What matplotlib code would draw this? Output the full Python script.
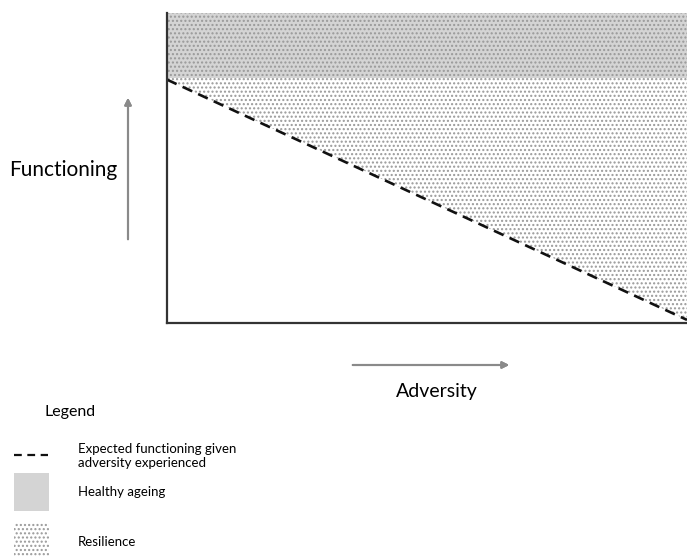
import numpy as np
import matplotlib.pyplot as plt
from matplotlib.patches import Rectangle
from matplotlib.lines import Line2D

plt.rcParams['font.family'] = ['Lato', 'DejaVu Sans']
plt.rcParams['hatch.linewidth'] = 1.0

# conceptual data (adversity 0..10, functioning 0..10)
adversity = [0.0, 10.0]
expected_functioning = [7.85, 0.1]
healthy_low = 7.9
top = 10.0

legend_labels = ["Expected functioning given\nadversity experienced",
                 "Healthy ageing", "Resilience"]

fig = plt.figure(figsize=(6.87, 5.56), dpi=100)
ax = fig.add_axes([167 / 687, 1 - 323 / 556, 520 / 687, 310 / 556])

# healthy ageing band
ax.fill_between(adversity, healthy_low, top, color="#d4d4d4", linewidth=0)
# resilience (dotted) region above expected line
ax.fill_between(adversity, expected_functioning, top, facecolor="none",
                edgecolor="#999999", hatch="....", linewidth=0)
ax.plot(adversity, expected_functioning, color="#111111", lw=1.9,
        dashes=(4, 2.5))

ax.set_xlim(0, 10)
ax.set_ylim(0, 10)
ax.set_xticks([])
ax.set_yticks([])
for s in ["top", "right"]:
    ax.spines[s].set_visible(False)
for s in ["left", "bottom"]:
    ax.spines[s].set_color("#333333")
    ax.spines[s].set_linewidth(1.6)


def fx(px):
    return px / 687


def fy(py):
    return 1 - py / 556


arrow = dict(arrowstyle="-|>", color="#8a8a8a", lw=1.5, mutation_scale=10)
fig.add_artist(plt.annotate("", xy=(fx(128), fy(95)), xytext=(fx(128), fy(242)),
                            xycoords="figure fraction", arrowprops=arrow))
fig.add_artist(plt.annotate("", xy=(fx(512), fy(365)), xytext=(fx(350), fy(365)),
                            xycoords="figure fraction", arrowprops=arrow))

fig.text(fx(63), fy(170), "Functioning", fontsize=15, ha="center", va="center")
fig.text(fx(437), fy(391), "Adversity", fontsize=14, ha="center", va="center")

# legend
fig.text(fx(45), fy(412), "Legend", fontsize=11.5, ha="left", va="center")
fig.add_artist(Line2D([fx(14), fx(48)], [fy(455), fy(455)], color="#111111",
                      lw=1.6, dashes=(3.5, 2.5), transform=fig.transFigure))
fig.add_artist(Rectangle((fx(14), fy(511)), fx(35), 38 / 556, color="#d4d4d4",
                         lw=0, transform=fig.transFigure))
fig.add_artist(Rectangle((fx(14), fy(556)), fx(35), 34 / 556, facecolor="none",
                         edgecolor="#999999", hatch="....", lw=0,
                         transform=fig.transFigure))
fig.text(fx(78), fy(456), legend_labels[0], fontsize=9.5, ha="left", va="center",
         linespacing=1.25)
fig.text(fx(78), fy(492), legend_labels[1], fontsize=9.5, ha="left", va="center")
fig.text(fx(78), fy(542), legend_labels[2], fontsize=9.5, ha="left", va="center")

fig.savefig("out.png", dpi=100)
